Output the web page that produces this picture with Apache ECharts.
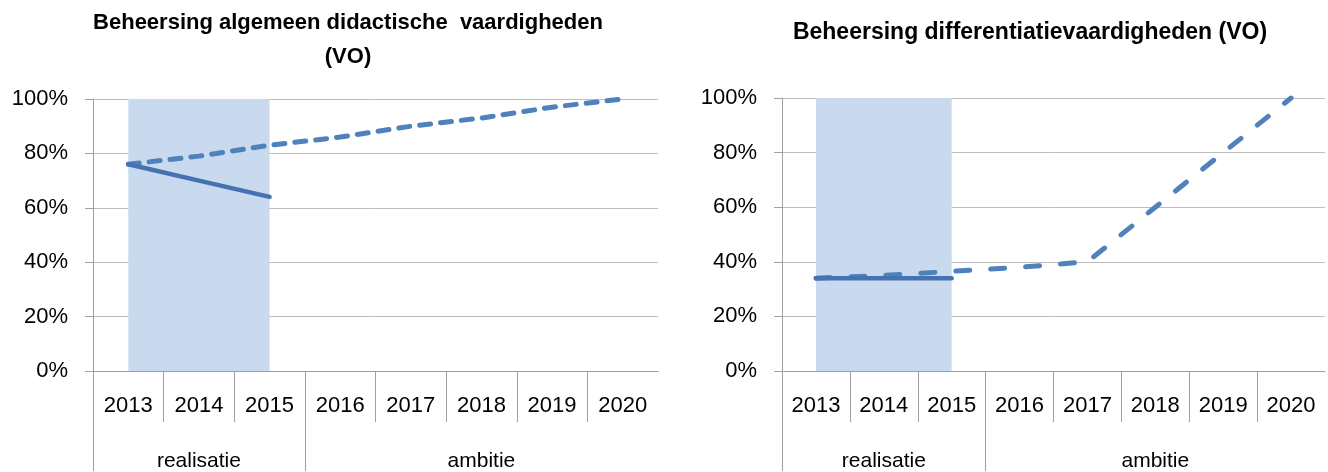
<!DOCTYPE html>
<html>
<head>
<meta charset="utf-8">
<script src="https://cdn.jsdelivr.net/npm/echarts@6/dist/echarts.min.js"></script>
<style>
  html, body { margin: 0; padding: 0; background: #fff; }
  #chart { width: 1328px; height: 472px; }
</style>
</head>
<body>
<div id="chart"></div>
<script>
var years = ['2013', '2014', '2015', '2016', '2017', '2018', '2019', '2020'];
var groupNames = ['realisatie', 'ambitie'];
var groupStart = [0, 3];
var groupEnd = [3, 8];
var shade = [100, 100, 100, null, null, null, null, null];

// links: algemeen didactische vaardigheden
var leftRealisatie = [76, 70, 64, null, null, null, null, null];
var leftAmbitie = [76, 79, 83, 86, 90, 93, 97, 100];

// rechts: differentiatievaardigheden
var rightRealisatie = [34, 34, 34, null, null, null, null, null];
var rightAmbitie = [34, 35, 36.5, 38, 40, 60, 80, 100];

var font = 'Liberation Sans';
var gridColor = '#bdbdbd';
var axisColor = '#a0a0a0';

// posities van de groepslabels (midden van elke groep)
var groupMid = groupStart.map(function (s, i) { return (s + groupEnd[i]) / 2; });
// korte streepjes tussen de jaren, behalve waar een groep begint
var yearTicks = [];
for (var i = 1; i < years.length; i++) {
  if (groupStart.indexOf(i) < 0) yearTicks.push(i);
}

function yearAxis(gi) {
  return {
    type: 'category', gridIndex: gi, data: years, boundaryGap: true,
    axisLine: { show: true, lineStyle: { color: axisColor } },
    axisTick: { show: false },
    axisLabel: { interval: 0, margin: 24, color: '#000', fontSize: 22, fontFamily: font }
  };
}

function yearTickAxis(gi) {
  return {
    type: 'value', gridIndex: gi, min: 0, max: years.length, position: 'bottom',
    axisLine: { show: false }, splitLine: { show: false },
    axisTick: { show: true, length: 51, customValues: yearTicks, lineStyle: { color: axisColor } },
    axisLabel: { show: false }
  };
}

function groupAxis(gi) {
  return {
    type: 'value', gridIndex: gi, min: 0, max: years.length, position: 'bottom',
    axisLine: { show: false }, splitLine: { show: false },
    axisTick: { show: true, length: 100, customValues: groupStart, lineStyle: { color: axisColor } },
    axisLabel: {
      customValues: groupMid, margin: 80, color: '#000', fontSize: 21, fontFamily: font,
      formatter: function (v) { return groupNames[groupMid.indexOf(v)]; }
    }
  };
}

function valAxis(gi) {
  return {
    type: 'value', gridIndex: gi, min: 0, max: 100, interval: 20,
    axisLine: { show: true, lineStyle: { color: axisColor } },
    axisTick: { show: true, length: 8, lineStyle: { color: axisColor } },
    axisLabel: { formatter: '{value}%', margin: 25, color: '#000', fontSize: 22, fontFamily: font },
    splitLine: { lineStyle: { color: gridColor } }
  };
}

function seriesFor(xi, yi, real, amb, dash) {
  return [
    {
      type: 'line', xAxisIndex: xi, yAxisIndex: yi, data: shade, showSymbol: false,
      lineStyle: { width: 0 }, areaStyle: { color: '#c9daef', opacity: 1 }, z: 1, silent: true
    },
    {
      type: 'line', xAxisIndex: xi, yAxisIndex: yi, data: amb, showSymbol: false,
      lineStyle: { color: '#4f81bd', width: 5, type: dash, cap: 'round' }, z: 3
    },
    {
      type: 'line', xAxisIndex: xi, yAxisIndex: yi, data: real, showSymbol: false,
      lineStyle: { color: '#4572b0', width: 4.5, cap: 'round' }, z: 4
    }
  ];
}

var myChart = echarts.init(document.getElementById('chart'));
var option = {
  animation: false,
  title: [
    {
      text: 'Beheersing algemeen didactische  vaardigheden\n(VO)', left: 343, top: 1, textAlign: 'center',
      textStyle: { fontSize: 22, fontWeight: 'bold', fontFamily: font, color: '#000', lineHeight: 34 }
    },
    {
      text: 'Beheersing differentiatievaardigheden (VO)', left: 1025, top: 11, textAlign: 'center',
      textStyle: { fontSize: 23, fontWeight: 'bold', fontFamily: font, color: '#000', lineHeight: 34 }
    }
  ],
  grid: [
    { left: 93, top: 99, width: 565, height: 273 },
    { left: 782, top: 98, width: 543, height: 273 }
  ],
  xAxis: [
    yearAxis(0), yearTickAxis(0), groupAxis(0),
    yearAxis(1), yearTickAxis(1), groupAxis(1)
  ],
  yAxis: [valAxis(0), valAxis(1)],
  series: seriesFor(0, 0, leftRealisatie, leftAmbitie, [11, 10])
    .concat(seriesFor(3, 1, rightRealisatie, rightAmbitie, [14, 21]))
};
option && myChart.setOption(option);
</script>
</body>
</html>
